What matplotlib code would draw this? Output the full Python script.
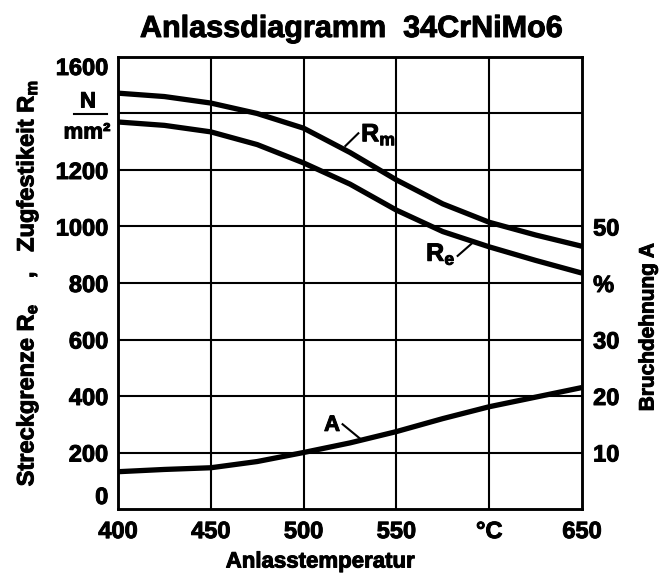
"""
Anlassdiagramm 34CrNiMo6
"""

import matplotlib
matplotlib.use('Agg')
import matplotlib.pyplot as plt
from matplotlib.lines import Line2D
import matplotlib.patheffects as pe

plt.rcParams['font.family'] = ['Liberation Sans', 'DejaVu Sans']
plt.rcParams['font.weight'] = 'bold'
plt.rcParams['mathtext.fontset'] = 'custom'
plt.rcParams['mathtext.rm'] = 'Liberation Sans:bold'
plt.rcParams['mathtext.it'] = 'Liberation Sans:bold'
plt.rcParams['mathtext.bf'] = 'Liberation Sans:bold'

# Anlasstemperatur in °C
temp = [400, 425, 450, 475, 500, 525, 550, 575, 600, 625, 650]
# Zugfestigkeit Rm und Streckgrenze Re in N/mm²
rm = [1472, 1460, 1437, 1400, 1348, 1262, 1165, 1080, 1015, 970, 930]
re = [1370, 1358, 1335, 1290, 1225, 1150, 1058, 982, 928, 880, 835]
# Bruchdehnung A in %
bruch = [6.6, 7.0, 7.3, 8.4, 10.0, 11.7, 13.7, 16.0, 18.1, 19.8, 21.5]

x_ticks = [400, 450, 500, 550, 600, 650]
x_labels = ['400', '450', '500', '550', '°C', '650']
y_ticks = [0, 200, 400, 600, 800, 1000, 1200, 1400, 1600]
y_labels = ['0', '200', '400', '600', '800', '1000', '1200', '', '1600']
a_ticks = [10, 20, 30, 40, 50]
a_labels = ['10', '20', '30', '%', '50']

W, H = 670, 576
fig = plt.figure(figsize=(W / 100, H / 100), dpi=100)
fig.patch.set_facecolor('white')

# etwas fetter wie im Druck
heavy = [pe.withStroke(linewidth=0.7, foreground='black')]


def fx(px):
    return px / W


def fy(py):
    return 1 - py / H


ax = fig.add_axes([fx(118), fy(509), (582 - 118) / W, (509 - 57) / H])
ax.set_xlim(400, 650)
ax.set_ylim(0, 1600)

# Gitter
for t in x_ticks[1:-1]:
    ax.axvline(t, color='black', lw=1.5, zorder=1)
for v in y_ticks[1:-1]:
    ax.axhline(v, color='black', lw=1.5, zorder=1)

ax.plot(temp, rm, color='black', lw=3.8, zorder=3, solid_capstyle='butt')
ax.plot(temp, re, color='black', lw=3.8, zorder=3, solid_capstyle='butt')

for s in ax.spines.values():
    s.set_linewidth(1.8)

ax.set_xticks(x_ticks)
ax.set_xticklabels(x_labels, fontsize=17, path_effects=heavy)
ax.set_yticks(y_ticks)
ax.set_yticklabels(y_labels, fontsize=17, path_effects=heavy)
ax.tick_params(axis='x', length=0, pad=8)
ax.tick_params(axis='y', length=0, pad=7)
ylab = ax.get_yticklabels()
ylab[0].set_verticalalignment('bottom')
ylab[-1].set_verticalalignment('top')

ax2 = ax.twinx()
ax2.set_ylim(0, 80)
ax2.plot(temp, bruch, color='black', lw=3.8, zorder=3, solid_capstyle='butt')
ax2.set_yticks(a_ticks)
ax2.set_yticklabels(a_labels, fontsize=17, path_effects=heavy)
ax2.tick_params(axis='y', length=0, pad=8)
for s in ax2.spines.values():
    s.set_linewidth(1.8)

# Kurvenbeschriftungen
ax.text(531, 1326, r'R$_\mathrm{m}$', fontsize=18, ha='left', va='center',
        path_effects=heavy)
ax.plot([522.5, 529.5], [1285, 1330], color='black', lw=1.5, zorder=3)
ax.text(566, 903, r'R$_\mathrm{e}$', fontsize=18, ha='left', va='center',
        path_effects=heavy)
ax.plot([583, 591], [896, 942], color='black', lw=1.5, zorder=3)
ax2.text(511, 14.8, 'A', fontsize=16, ha='left', va='center',
         path_effects=heavy)
ax2.plot([521, 531], [15.0, 12.3], color='black', lw=1.5, zorder=3)

# Einheit N/mm²
fig.text(fx(88), fy(102), 'N', fontsize=16, ha='center', va='center',
         path_effects=heavy)
fig.text(fx(87), fy(133), 'mm²', fontsize=16, ha='center', va='center',
         path_effects=heavy)
fig.add_artist(Line2D([fx(74), fx(107)], [fy(114), fy(114)],
                      color='black', lw=1.5))

fig.text(fx(351), fy(29), 'Anlassdiagramm  34CrNiMo6', fontsize=22,
         ha='center', va='center', path_effects=heavy)
fig.text(fx(320), fy(562), 'Anlasstemperatur', fontsize=16,
         ha='center', va='center', path_effects=heavy)
fig.text(fx(27), fy(283),
         r'Streckgrenze R$_\mathrm{e}$    ,   Zugfestikeit R$_\mathrm{m}$',
         fontsize=17, rotation=90, ha='center', va='center',
         path_effects=heavy)
fig.text(fx(648), fy(327), 'Bruchdehnung A', fontsize=15, rotation=90,
         ha='center', va='center', path_effects=heavy)

fig.savefig('out.png', dpi=100)
